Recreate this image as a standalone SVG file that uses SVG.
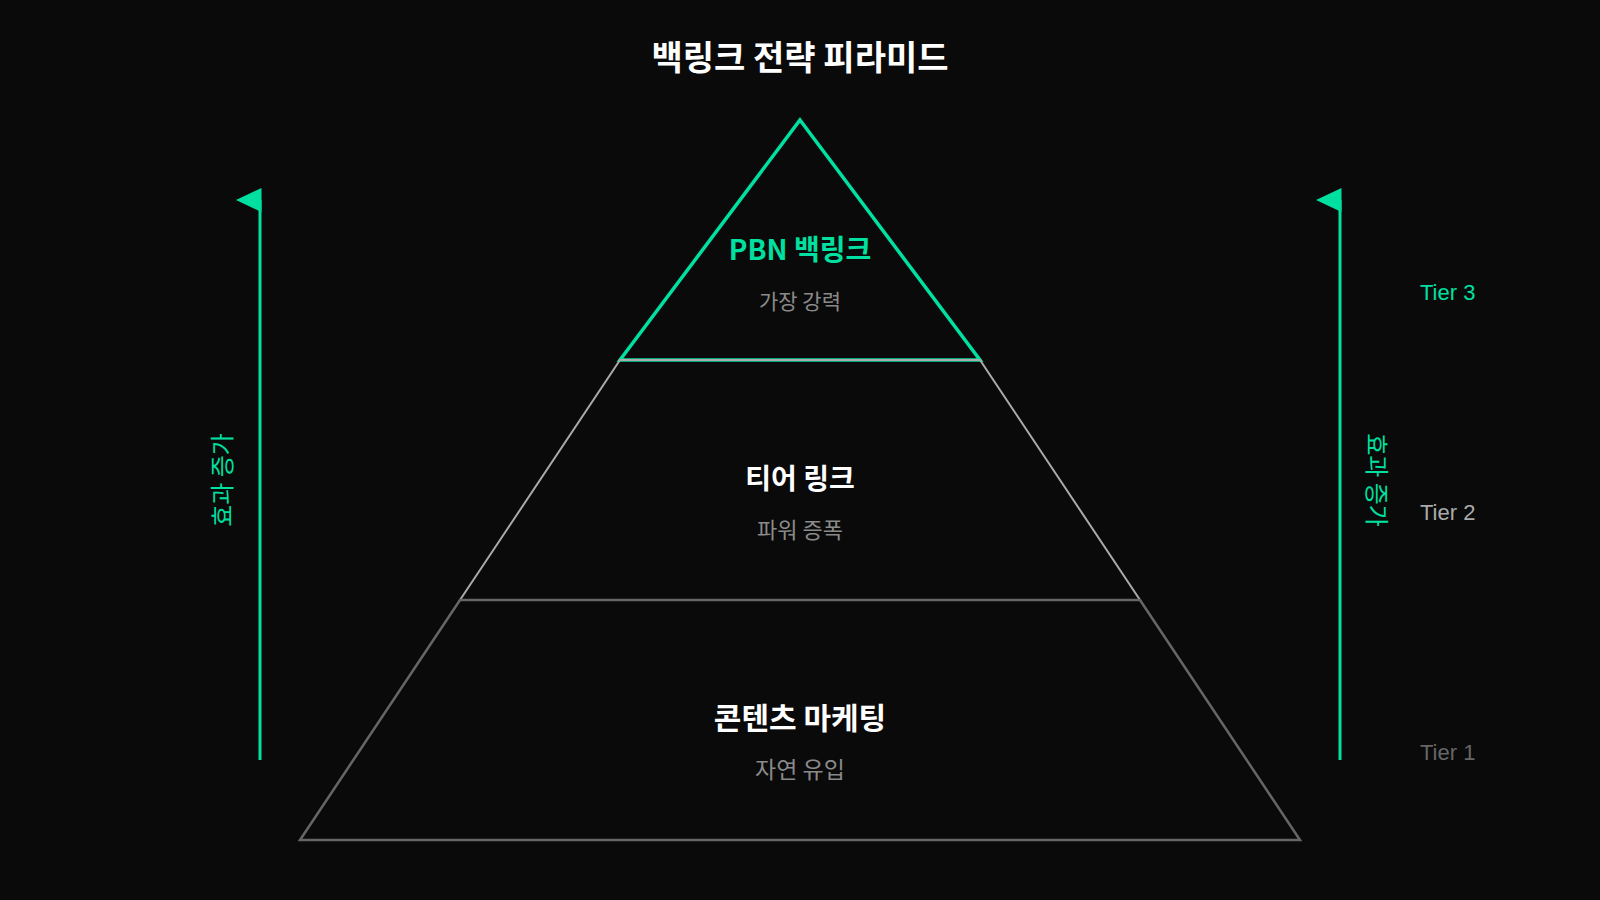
<svg xmlns="http://www.w3.org/2000/svg" width="1600" height="900" viewBox="0 0 1600 900">
  <style>
    .kr { font-family: "Noto Sans CJK KR", "Noto Sans", sans-serif; }
    .title { font-size: 34px; font-weight: 700; fill: #ffffff; }
    .tt { font-size: 28px; font-weight: 700; text-anchor: middle; }
    .sub { font-size: 21px; font-weight: 400; fill: #8a8a8a; text-anchor: middle; }
    .tier { font-family: "Liberation Sans", Arial, sans-serif; font-size: 22px; }
    .axis { stroke: #00E0A0; stroke-width: 3; fill: none; }
    .axislabel { font-size: 24px; fill: #00E0A0; text-anchor: middle; }
  </style>
  <rect width="1600" height="900" fill="#0a0a0a"/>

  <g id="title">
    <text class="kr title" x="800" y="70" text-anchor="middle">백링크 전략 피라미드</text>
  </g>

  <g id="tier3-node">
    <polygon points="800,120 980,360 620,360" fill="#0a0a0a" stroke="#00E0A0" stroke-width="3.5" stroke-linejoin="miter"/>
    <text class="kr tt" x="800" y="260" fill="#00E0A0">PBN 백링크</text>
    <text class="kr sub" x="800" y="309">가장 강력</text>
  </g>

  <g id="tier2-node">
    <polygon points="620,360 980,360 1140,600 460,600" fill="none" stroke="#aaaaaa" stroke-width="2"/>
    <text class="kr tt" x="800" y="489" fill="#ffffff">티어 링크</text>
    <text class="kr sub" x="800" y="538" style="font-size:22px">파워 증폭</text>
  </g>

  <g id="tier1-node">
    <polygon points="460,600 1140,600 1300,840 300,840" fill="none" stroke="#666666" stroke-width="2.5"/>
    <text class="kr tt" x="800" y="729" fill="#ffffff" style="font-size:30px">콘텐츠 마케팅</text>
    <text class="kr sub" x="800" y="778" style="font-size:23px">자연 유입</text>
  </g>

  <g id="connectors">
    <line class="axis" x1="260" y1="200" x2="260" y2="760"/>
    <polygon points="236,200 261.5,188 261.5,212" fill="#00E0A0"/>
    <line class="axis" x1="1340" y1="200" x2="1340" y2="760"/>
    <polygon points="1316,200 1341.5,188 1341.5,212" fill="#00E0A0"/>
  </g>

  <g id="axis-left-label">
    <text class="kr axislabel" transform="translate(231,480) rotate(-90)">효과 증가</text>
  </g>
  <g id="axis-right-label">
    <text class="kr axislabel" transform="translate(1368,480) rotate(90)">효과 증가</text>
  </g>

  <g id="tier-labels">
    <text class="tier" x="1420" y="300" fill="#00E0A0">Tier 3</text>
    <text class="tier" x="1420" y="520" fill="#aaaaaa">Tier 2</text>
    <text class="tier" x="1420" y="760" fill="#666666">Tier 1</text>
  </g>
</svg>
